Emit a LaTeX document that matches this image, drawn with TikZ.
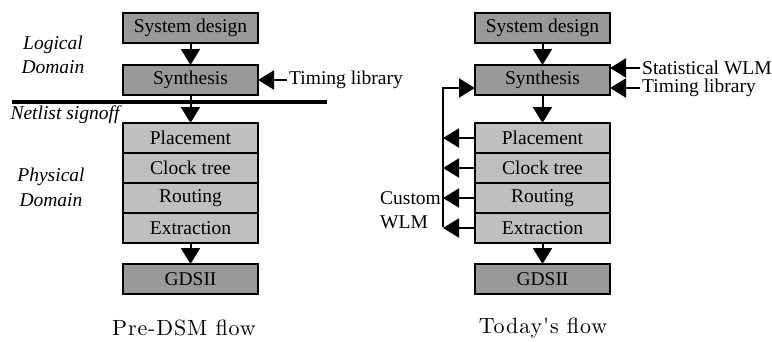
\documentclass[tikz,border=0pt]{standalone}
\usepackage{fontspec}
\setmainfont{Liberation Serif}
\newfontfamily\capfont{lmroman10-regular}[Extension=.otf, LetterSpace=4]
\usepackage{tikz}
\usetikzlibrary{positioning,arrows.meta,calc}

\begin{document}
\begin{tikzpicture}[x=1pt, y=-1pt,
                   box/.style={draw, line width=1.5pt, outer sep=0pt, minimum width=135pt,
                               minimum height=30pt, inner sep=0pt,
                               font=\fontsize{19.5}{24}\selectfont},
                   darkbox/.style={box, fill=black!40},
                   lightbox/.style={box, fill=black!25},
                   lbl/.style={inner sep=2pt, font=\fontsize{19.5}{24}\selectfont},
                   dom/.style={align=center, inner sep=0pt, font=\fontsize{19.5}{24.5}\selectfont\itshape},
                   flowcap/.style={font=\capfont\fontsize{22}{26}\selectfont},
                   arr/.style={line width=2pt, -{Triangle[length=16pt,width=19pt]}}]
    \useasboundingbox (0,0) rectangle (772,341);
    % Pre-DSM flow
    \node[darkbox]                   (lsys)   at (190.5,28) {System design};
    \node[darkbox]                   (lsyn)   at (190.5,80) {Synthesis};
    \node[lightbox]                  (lplace) at (190.5,138) {Placement};
    \node[lightbox, below=0pt of lplace] (lclock) {Clock tree};
    \node[lightbox, below=0pt of lclock] (lroute) {Routing};
    \node[lightbox, below=0pt of lroute] (lextr)  {Extraction};
    \node[darkbox]                   (lgds)   at (190.5,279) {GDSII};
    \node[lbl, anchor=west]          (ltim)   at (287,80) {Timing library};
    \node[dom]                       (llog)   at (53,55) {Logical\\Domain};
    \node[dom]                       (lphys)  at (51,187.5) {Physical\\Domain};
    \node[dom]                       (lnet)   at (65,115) {Netlist signoff};
    \node[flowcap]                   (lcap)   at (184,328) {Pre-DSM flow};
    \coordinate (divl) at (12,102);
    \coordinate (divr) at (327,102);
    \draw[line width=4.5pt] (divl) -- (divr);
    \draw[arr] (lsys) -- (lsyn);
    \draw[arr] (lsyn) -- (lplace);
    \draw[arr] (lextr) -- (lgds);
    \draw[arr] (ltim.west) -- (lsyn.east);
    % Today's flow
    \node[darkbox]                   (rsys)   at (542.5,28) {System design};
    \node[darkbox]                   (rsyn)   at (542.5,80) {Synthesis};
    \node[lightbox]                  (rplace) at (542.5,138) {Placement};
    \node[lightbox, below=0pt of rplace] (rclock) {Clock tree};
    \node[lightbox, below=0pt of rclock] (rroute) {Routing};
    \node[lightbox, below=0pt of rroute] (rextr)  {Extraction};
    \node[darkbox]                   (rgds)   at (542.5,279) {GDSII};
    \node[lbl, anchor=west]          (rstat)  at (640,68) {Statistical WLM};
    \node[lbl, anchor=west]          (rtim)   at (640,88) {Timing library};
    \node[lbl, anchor=west, align=left, inner sep=0pt] (rcust) at (380,210) {Custom\\WLM};
    \node[flowcap]                   (rcap)   at (543,328) {Today's flow};
    \coordinate (fbtop) at (443,88);
    \coordinate (fbbot) at (443,227);
    \draw[arr] (rsys) -- (rsyn);
    \draw[arr] (rsyn) -- (rplace);
    \draw[arr] (rextr) -- (rgds);
    \draw[arr] (rstat.west) -- (rstat.west -| rsyn.east);
    \draw[arr] (rtim.west) -- (rtim.west -| rsyn.east);
    \draw[arr] (fbbot) -- (fbtop) -- (fbtop -| rsyn.west);
    \draw[arr] (rplace.west) -- (rplace.west -| fbtop);
    \draw[arr] (rclock.west) -- (rclock.west -| fbtop);
    \draw[arr] (rroute.west) -- (rroute.west -| fbtop);
    \draw[arr] (rextr.west) -- (rextr.west -| fbtop);
\end{tikzpicture}
\end{document}
